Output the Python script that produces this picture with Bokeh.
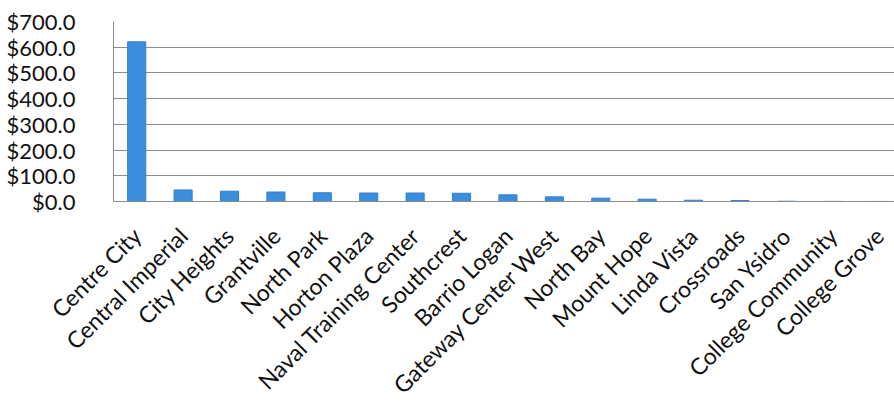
from math import pi
from bokeh.plotting import figure
from bokeh.models import Range1d, FixedTicker, NumeralTickFormatter, ColumnDataSource
from bokeh.embed import file_html
from bokeh.resources import INLINE

categories = ["Centre City", "Central Imperial", "City Heights", "Grantville",
              "North Park", "Horton Plaza", "Naval Training Center", "Southcrest",
              "Barrio Logan", "Gateway Center West", "North Bay", "Mount Hope",
              "Linda Vista", "Crossroads", "San Ysidro", "College Community",
              "College Grove"]
values = [621, 45, 40, 37, 34, 33, 33, 32, 26, 18, 13, 9, 5, 4, 1, 0.5, 0.3]
y_ticks = [0, 100, 200, 300, 400, 500, 600, 700]

positions = list(range(len(categories)))
src = ColumnDataSource(dict(x=positions, top=values, name=categories))

p = figure(width=894, height=412, output_backend="svg", toolbar_location=None,
           x_range=Range1d(-0.5, 16.33), y_range=Range1d(0, 700),
           min_border_left=113, min_border_top=21, min_border_right=0,
           min_border_bottom=211)
p.outline_line_color = None
p.background_fill_color = "white"
p.border_fill_color = "white"

p.vbar(x="x", top="top", width=0.39, source=src, fill_color="#3b8ddd",
       line_color="#2f80d2", line_width=1)

grey = "#8c8c8c"
p.xgrid.grid_line_color = None
p.ygrid.grid_line_color = grey
p.ygrid.grid_line_width = 1
p.ygrid.ticker = FixedTicker(ticks=y_ticks)

ya = p.yaxis[0]
ya.ticker = FixedTicker(ticks=y_ticks)
ya.formatter = NumeralTickFormatter(format="$0.0")
ya.axis_line_color = grey
ya.major_tick_line_color = None
ya.minor_tick_line_color = None
ya.major_label_standoff = 32
ya.major_label_text_font = "Lato"
ya.major_label_text_font_size = "22px"
ya.major_label_text_color = "#111111"

xa = p.xaxis[0]
xa.ticker = FixedTicker(ticks=positions)
xa.major_label_overrides = {i: c for i, c in enumerate(categories)}
xa.major_label_orientation = pi / 4
xa.axis_line_color = grey
xa.major_tick_line_color = None
xa.minor_tick_line_color = None
xa.major_label_standoff = 24
xa.major_label_text_font = "Lato"
xa.major_label_text_font_size = "23px"
xa.major_label_text_color = "#111111"

open("out.html", "w").write(file_html(p, INLINE))
